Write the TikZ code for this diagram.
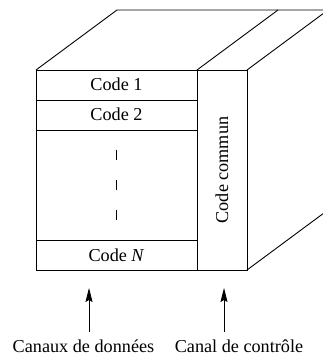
\documentclass[tikz,border=0pt]{standalone}
\usepackage{fontspec}
\setmainfont{Liberation Serif}
\usetikzlibrary{arrows.meta}
\begin{document}
\begin{tikzpicture}[x=1pt,y=-1pt,line width=0.9pt,
  font=\fontsize{18.2}{21}\selectfont,
  rowtext/.style={inner sep=0pt,anchor=base},
  caption/.style={inner sep=0pt,anchor=base},
  dashmark/.style={line width=0.8pt},
  feed/.style={-{Stealth[length=14pt,width=7pt,inset=2pt]},line width=0.8pt}]
\useasboundingbox (0,0) rectangle (323,358);
\clip (0,0) rectangle (323,358);
% front face corners
\coordinate (A) at (36,70);
\coordinate (B) at (197,70);
\coordinate (C) at (247,70);
\coordinate (D) at (247,270);
\coordinate (E) at (36,270);
\coordinate (F) at (197,270);
% front face
\draw (A) rectangle (D);
\draw (B) -- (F);
\draw (36,100) -- (197,100);
\draw (36,130) -- (197,130);
\draw (36,240) -- (197,240);
% top and side faces
\draw (A) -- ++(81,-60) -- ++(240,0);
\draw (B) -- ++(81,-60);
\draw (C) -- ++(81,-60) -- ++(0,200) -- (D);
% texts in rows
\node[rowtext] (c1) at (116.5,91) {Code 1};
\node[rowtext] (c2) at (116.5,121) {Code 2};
\node[rowtext] (cn) at (116.5,261) {Code~\textit{N}};
\draw[dashmark] (116,150) -- (116,160);
\draw[dashmark] (116,180) -- (116,190);
\draw[dashmark] (116,210) -- (116,220);
\node[rotate=90,inner sep=0pt] (cc) at (222,170) {Code commun};
% captions and arrows
\node[caption] (l1) at (83.5,352) {Canaux de données};
\node[caption] (l2) at (239,352) {Canal de contrôle};
\coordinate (s1) at (89,332);
\coordinate (t1) at (89,288);
\coordinate (s2) at (224,332);
\coordinate (t2) at (224,288);
\draw[feed] (s1) -- (t1);
\draw[feed] (s2) -- (t2);
\end{tikzpicture}
\end{document}
